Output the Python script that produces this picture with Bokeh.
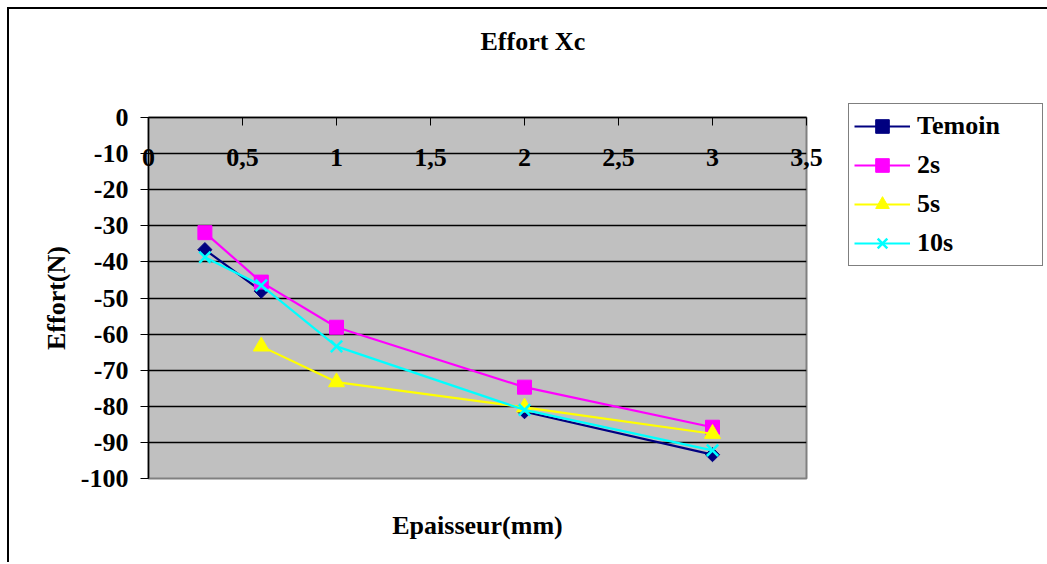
import math
from bokeh.plotting import figure
from bokeh.models import Range1d, FixedTicker, LinearAxis, Legend, LegendItem, Title
from bokeh.embed import file_html
from bokeh.resources import INLINE

# ---- data ----
thickness = [0.3, 0.6, 1, 2, 3]
temoin = [-36.6, -48.1, math.nan, -81.5, -93.4]
s2 = [-31.9, -45.6, -58.1, -74.7, -85.8]
s5 = [math.nan, -63.4, -73.3, -80.3, -87.6]
s10 = [-38.7, -46.5, -63.4, -81.0, -92.2]

series_names = ["Temoin", "2s", "5s", "10s"]
x_ticks = [0, 0.5, 1, 1.5, 2, 2.5, 3, 3.5]
x_tick_labels = ["0", "0,5", "1", "1,5", "2", "2,5", "3", "3,5"]
y_ticks = [0, -10, -20, -30, -40, -50, -60, -70, -80, -90, -100]
y_tick_labels = ["0", "-10", "-20", "-30", "-40", "-50", "-60", "-70", "-80", "-90", "-100"]

FONT = "Liberation Serif"
FS = "26px"

p = figure(frame_width=658, frame_height=361,
           x_range=Range1d(0, 3.5), y_range=Range1d(-100, 0),
           x_axis_location="above",
           output_backend="svg", toolbar_location=None,
           min_border_left=139, min_border_top=108,
           min_border_right=239, min_border_bottom=84,
           background_fill_color="#C0C0C0", border_fill_color="white")
p.styles = {"margin-left": "7px", "margin-top": "7px",
            "border-left": "2px solid black", "border-top": "2px solid black"}

p.outline_line_color = "#808080"
p.outline_line_width = 2

# title
p.title = Title(text="Effort Xc", align="left", offset=332, standoff=10,
                text_font=FONT, text_font_style="bold", text_font_size=FS,
                text_color="black")

# x axis (top, crossing at 0)
xa = p.xaxis[0]
xa.ticker = FixedTicker(ticks=x_ticks)
xa.major_label_overrides = dict(zip(x_ticks, x_tick_labels))
xa.major_tick_in = 8
xa.major_tick_out = 0
xa.minor_tick_line_color = None
xa.axis_line_color = "black"
xa.axis_line_width = 1.5
xa.major_tick_line_color = "black"
xa.major_label_standoff = -48
xa.major_label_text_baseline = "alphabetic"
xa.major_label_text_font = FONT
xa.major_label_text_font_style = "bold"
xa.major_label_text_font_size = FS
xa.major_label_text_color = "black"

# empty spacer between the top axis and the title
spacer = LinearAxis(ticker=FixedTicker(ticks=[]), axis_label=" ")
spacer.axis_line_color = None
spacer.major_tick_line_color = None
spacer.minor_tick_line_color = None
spacer.major_label_text_font_size = "0px"
spacer.axis_label_text_font_size = "2px"
spacer.axis_label_standoff = 52
p.add_layout(spacer, "above")

# y axis
ya = p.yaxis[0]
ya.ticker = FixedTicker(ticks=y_ticks)
ya.major_label_overrides = dict(zip(y_ticks, y_tick_labels))
ya.major_tick_in = 0
ya.major_tick_out = 8
ya.minor_tick_line_color = None
ya.axis_line_color = "black"
ya.axis_line_width = 1.5
ya.major_label_standoff = 12
ya.major_label_text_font = FONT
ya.major_label_text_font_style = "bold"
ya.major_label_text_font_size = FS
ya.major_label_text_color = "black"
ya.axis_label = "Effort(N)"
ya.axis_label_text_font = FONT
ya.axis_label_text_font_style = "bold"
ya.axis_label_text_font_size = FS
ya.axis_label_text_color = "black"
ya.axis_label_standoff = 7

# bottom axis carrying only the x title
xb = LinearAxis(ticker=FixedTicker(ticks=[]), axis_label="Epaisseur(mm)")
xb.axis_line_color = None
xb.major_tick_line_color = None
xb.minor_tick_line_color = None
xb.major_label_text_font_size = "0px"
xb.axis_label_text_font = FONT
xb.axis_label_text_font_style = "bold"
xb.axis_label_text_font_size = FS
xb.axis_label_text_color = "black"
xb.axis_label_standoff = 32
p.add_layout(xb, "below")

p.xgrid.visible = False
p.ygrid.ticker = FixedTicker(ticks=y_ticks)
p.ygrid.grid_line_color = "black"
p.ygrid.grid_line_width = 1.3

# series
LW = 2.2
items = []
l = p.line(thickness, temoin, line_color="#000080", line_width=LW)
m = p.scatter(thickness, temoin, marker="square", angle=math.pi / 4, size=10,
              fill_color="#000080", line_color="#000080")
items.append(LegendItem(label=series_names[0], renderers=[l, m]))

l = p.line(thickness, s2, line_color="#FF00FF", line_width=LW)
m = p.scatter(thickness, s2, marker="square", size=14,
              fill_color="#FF00FF", line_color="#FF00FF")
items.append(LegendItem(label=series_names[1], renderers=[l, m]))

l = p.line(thickness, s5, line_color="#FFFF00", line_width=LW)
m = p.scatter(thickness, s5, marker="triangle", size=16,
              fill_color="#FFFF00", line_color="#FFFF00")
items.append(LegendItem(label=series_names[2], renderers=[l, m]))

l = p.line(thickness, s10, line_color="#00FFFF", line_width=LW)
m = p.scatter(thickness, s10, marker="x", size=16,
              line_color="#00FFFF", line_width=2.5)
items.append(LegendItem(label=series_names[3], renderers=[l, m]))

legend = Legend(items=items, location=(42, 212),
                label_text_font=FONT, label_text_font_style="bold",
                label_text_font_size=FS, label_text_color="black",
                glyph_width=56, glyph_height=34, label_height=33,
                spacing=5, padding=5, margin=0, label_standoff=7,
                label_width=120, border_line_color="black",
                border_line_width=1.5, background_fill_color="white",
                background_fill_alpha=1)
p.add_layout(legend, "right")

open("out.html", "w").write(file_html(p, INLINE))
